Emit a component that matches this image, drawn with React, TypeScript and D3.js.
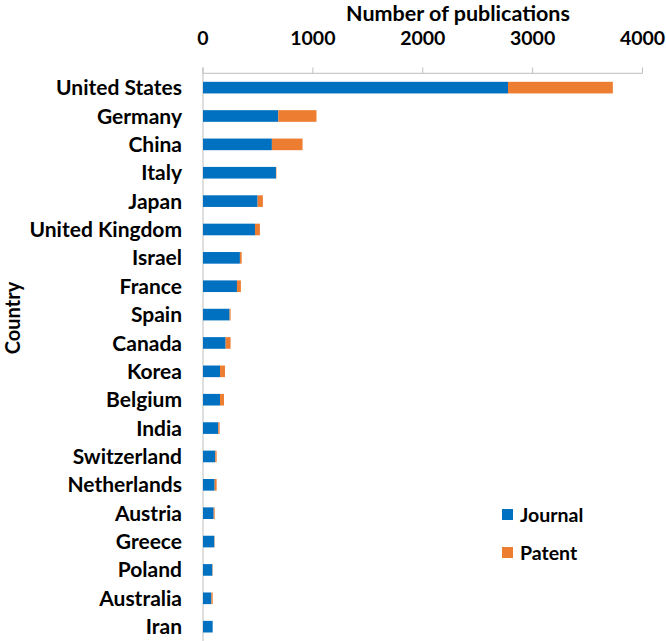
import React from "react";
import * as d3 from "d3";

const countries = ["United States","Germany","China","Italy","Japan","United Kingdom","Israel","France","Spain","Canada","Korea","Belgium","India","Switzerland","Netherlands","Austria","Greece","Poland","Australia","Iran"];
const journal = [2776,685,627,664,497,473,336,309,242,206,155,155,139,112,106,97,103,85,76,88];
const patent = [954,348,279,4,48,45,16,36,9,45,45,36,12,12,18,9,3,3,12,0];
const xTicks = [0,1000,2000,3000,4000];
const seriesNames = ["Journal","Patent"];
const colors = ["#0070C0","#ED7D31"];

const W = 666, H = 641;
const FONT = "Lato, 'Open Sans', sans-serif";

export default function App() {
  const x = d3.scaleLinear().domain([0,4000]).range([203,642.5]);
  const y = d3.scaleBand<string>().domain(countries).range([73.3,641]).paddingInner(0.59).paddingOuter(0.3);
  const axisColor = "#bfbfbf";
  return (
    <svg width={W} height={H} style={{position:"absolute", left:0, top:0, background:"#fff"}} fontFamily={FONT} fontWeight="bold">
      <text x={458} y={21} textAnchor="middle" fontSize={21.5} fill="#000">Number of publications</text>
      {xTicks.map(t => (
        <g key={t}>
          <line x1={x(t)} x2={x(t)} y1={67.5} y2={73.3} stroke={axisColor} strokeWidth={1}/>
          <text x={x(t)} y={45} textAnchor="middle" fontSize={19.5} fill="#000">{t}</text>
        </g>
      ))}
      <line x1={x(0)} x2={x(4000)} y1={73.3} y2={73.3} stroke={axisColor} strokeWidth={1}/>
      <line x1={x(0)} x2={x(0)} y1={67.5} y2={H} stroke={axisColor} strokeWidth={1}/>
      {countries.map((c, i) => {
        const yy = y(c)!;
        const bw = y.bandwidth();
        return (
          <g key={c}>
            <rect x={x(0)} y={yy} width={x(journal[i]) - x(0)} height={bw} fill={colors[0]}/>
            <rect x={x(journal[i])} y={yy} width={x(journal[i]+patent[i]) - x(journal[i])} height={bw} fill={colors[1]}/>
            <text x={182} y={yy + bw/2} dy="0.36em" textAnchor="end" fontSize={21} fill="#000">{c}</text>
          </g>
        );
      })}
      <text transform={`translate(20,318) rotate(-90)`} textAnchor="middle" fontSize={20} fill="#000">Country</text>
      {seriesNames.map((s, i) => (
        <g key={s}>
          <rect x={502} y={509 + i*38} width={11} height={11} fill={colors[i]}/>
          <text x={520} y={514.5 + i*38} dy="0.36em" fontSize={19.5} fill="#000">{s}</text>
        </g>
      ))}
    </svg>
  );
}
